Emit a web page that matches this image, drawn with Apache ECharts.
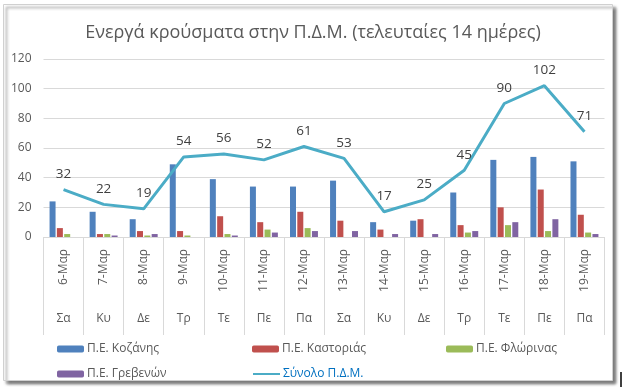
<!DOCTYPE html>
<html>
<head>
<meta charset="utf-8">
<script src="https://cdn.jsdelivr.net/npm/echarts@6/dist/echarts.min.js"></script>
<style>html,body{margin:0;padding:0;background:#fff;}#c{width:626px;height:389px;}</style>
</head>
<body>
<div id="c"></div>
<script>
const dates = ['6-Μαρ','7-Μαρ','8-Μαρ','9-Μαρ','10-Μαρ','11-Μαρ','12-Μαρ','13-Μαρ','14-Μαρ','15-Μαρ','16-Μαρ','17-Μαρ','18-Μαρ','19-Μαρ'];
const days = ['Σα','Κυ','Δε','Τρ','Τε','Πε','Πα','Σα','Κυ','Δε','Τρ','Τε','Πε','Πα'];
const kozanis   = [24,17,12,49,39,34,34,38,10,11,30,52,54,51];
const kastorias = [6,2,4,4,14,10,17,11,5,12,8,20,32,15];
const florinas  = [2,2,1,1,2,5,6,0,0,0,3,8,4,3];
const grevenon  = [0,1,2,0,1,3,4,4,2,2,4,10,12,2];
const total     = [32,22,19,54,56,52,61,53,17,25,45,90,102,71];
const yTicks = {min:0, max:120, interval:20};

const FONT = 'Open Sans';
const GRAY = '#595959';
const names = ['Π.Ε. Κοζάνης','Π.Ε. Καστοριάς','Π.Ε. Φλώρινας','Π.Ε. Γρεβενών','Σύνολο Π.Δ.Μ.'];
const colors = ['#4F81BD','#C0504D','#9BBB59','#8064A2','#4BACC6'];

function leg(name, left, top, color){
  return {
    data:[name], left:left, top:top, padding:0, orient:'horizontal',
    itemWidth:27, itemHeight:7, itemGap:3, selectedMode:false,
    textStyle:{color:color||GRAY, fontSize:12, fontFamily:FONT, padding:[0,0,0,-2]}
  };
}

const chart = echarts.init(document.getElementById('c'), null, {renderer:'canvas'});
const barSeries = [kozanis,kastorias,florinas,grevenon].map((d,i)=>({
  name:names[i], type:'bar', data:d, barWidth:6, barGap:'22%',
  itemStyle:{color:colors[i]}, xAxisIndex:0
}));
chart.setOption({
  animation:false,
  textStyle:{fontFamily:FONT},
  title:{text:'Ενεργά κρούσματα στην Π.Δ.Μ. (τελευταίες 14 ημέρες)', left:'center', top:19,
    textStyle:{color:GRAY, fontSize:18, fontWeight:'normal', fontFamily:FONT}},
  graphic:[
    {type:'rect', z:-10, shape:{x:3.5,y:4.5,width:609,height:376},
      style:{fill:'#fff', stroke:'#d0d0d0', lineWidth:1, shadowBlur:3, shadowOffsetX:3, shadowOffsetY:3, shadowColor:'rgba(0,0,0,0.55)'}},
    {type:'line', z:10, shape:{x1:621,y1:372,x2:621,y2:387}, style:{stroke:'#000', lineWidth:1.5}}
  ],
  legend:[
    leg(names[0],57,343), leg(names[1],252,343), leg(names[2],446,343),
    leg(names[3],57,368), leg(names[4],252,368,'#0070C0')
  ],
  grid:{left:43.5, right:21.5, top:59, bottom:152, containLabel:false},
  xAxis:[
    {type:'category', data:dates, position:'bottom',
      axisLine:{show:true, lineStyle:{color:'#d9d9d9'}},
      axisTick:{show:true, length:98, interval:0, lineStyle:{color:'#d9d9d9'}},
      axisLabel:{rotate:90, interval:0, margin:12, color:GRAY, fontSize:12, fontFamily:FONT}},
    {type:'category', data:days, position:'bottom', offset:68,
      axisLine:{show:false}, axisTick:{show:false},
      axisLabel:{interval:0, margin:8, color:GRAY, fontSize:12, fontFamily:FONT}}
  ],
  yAxis:{type:'value', min:yTicks.min, max:yTicks.max, interval:yTicks.interval,
    axisLine:{show:false}, axisTick:{show:false},
    axisLabel:{color:GRAY, fontSize:12, margin:12, fontFamily:FONT},
    splitLine:{lineStyle:{color:'#d9d9d9'}}},
  series:[...barSeries, {
    name:names[4], type:'line', data:total, symbol:'circle', symbolSize:1, showSymbol:true, xAxisIndex:0,
    lineStyle:{color:colors[4], width:3}, itemStyle:{color:'rgba(0,0,0,0)'},
    label:{show:true, position:'top', distance:8, color:'#404040', fontSize:13.5, fontFamily:FONT}, z:5,
    labelLayout:{hideOverlap:false}
  }]
});
</script>
</body>
</html>
